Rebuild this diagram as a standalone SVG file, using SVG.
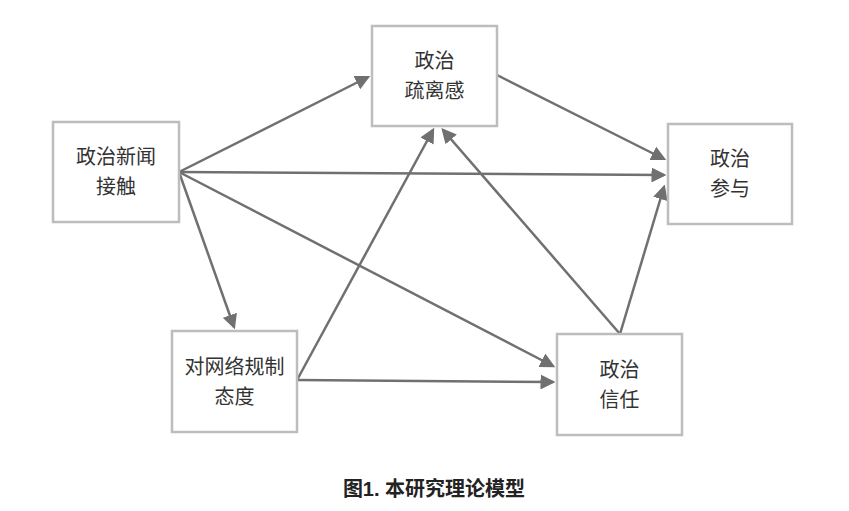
<svg xmlns="http://www.w3.org/2000/svg" width="849" height="511" viewBox="0 0 849 511">
<style>
.b{fill:#fff;stroke:#bdbdbd;stroke-width:2.5}
.t{font-family:"Noto Sans CJK SC",sans-serif;font-size:20px;fill:#333;text-anchor:middle}
.c{stroke:#707070;stroke-width:2.5;fill:none;marker-end:url(#a)}
</style>
<defs><marker id="a" markerWidth="6" markerHeight="6" refX="5" refY="3" orient="auto" markerUnits="strokeWidth"><path d="M0,0L6,3L0,6z" fill="#707070"/></marker></defs>
<rect width="849" height="511" fill="#fff"/>
<g id="connectors">
<line class="c" x1="179" y1="172" x2="368" y2="77"/>
<line class="c" x1="179" y1="172" x2="664" y2="175"/>
<line class="c" x1="179" y1="172" x2="234" y2="327"/>
<line class="c" x1="179" y1="172" x2="553" y2="366"/>
<line class="c" x1="497" y1="75" x2="664" y2="159"/>
<line class="c" x1="297" y1="380" x2="433" y2="130"/>
<line class="c" x1="297" y1="380" x2="553" y2="382"/>
<line class="c" x1="620" y1="334" x2="443" y2="130"/>
<line class="c" x1="620" y1="334" x2="664" y2="187"/>
</g>
<g id="n1"><rect class="b" x="372" y="26" width="125" height="100"/><text class="t" x="434.5" y="68">政治</text><text class="t" x="434.5" y="98">疏离感</text></g>
<g id="n2"><rect class="b" x="53" y="122" width="126" height="100"/><text class="t" x="116" y="164">政治新闻</text><text class="t" x="116" y="194">接触</text></g>
<g id="n3"><rect class="b" x="668" y="124" width="124" height="100"/><text class="t" x="730" y="166">政治</text><text class="t" x="730" y="196">参与</text></g>
<g id="n4"><rect class="b" x="172" y="331" width="125" height="101"/><text class="t" x="234.5" y="374">对网络规制</text><text class="t" x="234.5" y="404">态度</text></g>
<g id="n5"><rect class="b" x="557" y="334" width="125" height="101"/><text class="t" x="619.5" y="377">政治</text><text class="t" x="619.5" y="407">信任</text></g>
<text x="434" y="496" style="font-family:'Liberation Sans','Noto Sans CJK SC',sans-serif;font-size:20px;font-weight:bold;fill:#222;text-anchor:middle">图1. 本研究理论模型</text>
</svg>
